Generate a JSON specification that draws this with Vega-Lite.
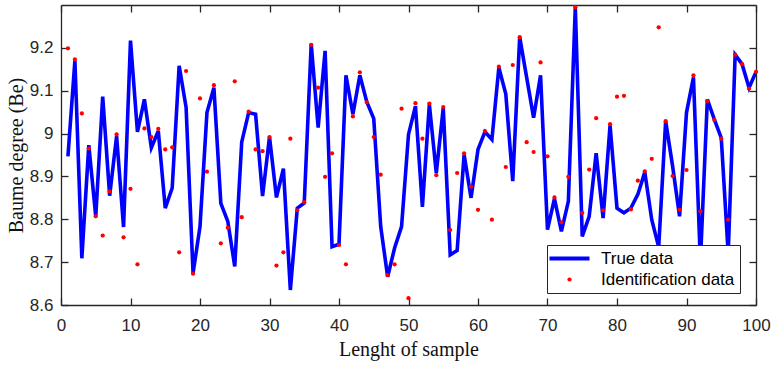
{
  "$schema": "https://vega.github.io/schema/vega-lite/v6.json",
  "width": 695,
  "height": 300,
  "autosize": {"type": "none"},
  "padding": {"left": 61, "top": 5, "right": 18, "bottom": 62},
  "background": "white",
  "config": {
    "view": {"stroke": null},
    "axis": {
      "grid": false,
      "domainColor": "#262626",
      "domainWidth": 1.3,
      "tickColor": "#262626",
      "tickWidth": 1.3,
      "tickSize": -7,
      "labelFont": "Liberation Sans",
      "labelFontSize": 17,
      "labelColor": "#262626",
      "titleFont": "Liberation Serif",
      "titleFontSize": 20,
      "titleFontWeight": "normal",
      "titleColor": "#111111"
    }
  },
  "data": {
    "values": [
      {"n": 1, "truth": 8.947, "ident": 9.199},
      {"n": 2, "truth": 9.170, "ident": 9.173},
      {"n": 3, "truth": 8.709, "ident": 9.047},
      {"n": 4, "truth": 8.973, "ident": 8.965},
      {"n": 5, "truth": 8.807, "ident": 8.807},
      {"n": 6, "truth": 9.086, "ident": 8.762},
      {"n": 7, "truth": 8.855, "ident": 8.865},
      {"n": 8, "truth": 8.994, "ident": 8.998},
      {"n": 9, "truth": 8.782, "ident": 8.758},
      {"n": 10, "truth": 9.217, "ident": 8.871},
      {"n": 11, "truth": 9.004, "ident": 8.695},
      {"n": 12, "truth": 9.080, "ident": 9.012},
      {"n": 13, "truth": 8.967, "ident": 8.992},
      {"n": 14, "truth": 9.006, "ident": 9.011},
      {"n": 15, "truth": 8.826, "ident": 8.963},
      {"n": 16, "truth": 8.873, "ident": 8.968},
      {"n": 17, "truth": 9.158, "ident": 8.723},
      {"n": 18, "truth": 9.061, "ident": 9.146},
      {"n": 19, "truth": 8.674, "ident": 8.673},
      {"n": 20, "truth": 8.783, "ident": 9.082},
      {"n": 21, "truth": 9.049, "ident": 8.911},
      {"n": 22, "truth": 9.107, "ident": 9.113},
      {"n": 23, "truth": 8.837, "ident": 8.744},
      {"n": 24, "truth": 8.795, "ident": 8.780},
      {"n": 25, "truth": 8.690, "ident": 9.122},
      {"n": 26, "truth": 8.980, "ident": 8.805},
      {"n": 27, "truth": 9.049, "ident": 9.051},
      {"n": 28, "truth": 9.045, "ident": 8.963},
      {"n": 29, "truth": 8.854, "ident": 8.959},
      {"n": 30, "truth": 8.992, "ident": 8.992},
      {"n": 31, "truth": 8.851, "ident": 8.692},
      {"n": 32, "truth": 8.918, "ident": 8.723},
      {"n": 33, "truth": 8.635, "ident": 8.988},
      {"n": 34, "truth": 8.826, "ident": 8.821},
      {"n": 35, "truth": 8.838, "ident": 8.840},
      {"n": 36, "truth": 9.209, "ident": 9.207},
      {"n": 37, "truth": 9.014, "ident": 9.107},
      {"n": 38, "truth": 9.193, "ident": 8.899},
      {"n": 39, "truth": 8.736, "ident": 8.954},
      {"n": 40, "truth": 8.742, "ident": 8.740},
      {"n": 41, "truth": 9.136, "ident": 8.695},
      {"n": 42, "truth": 9.045, "ident": 9.040},
      {"n": 43, "truth": 9.136, "ident": 9.143},
      {"n": 44, "truth": 9.074, "ident": 9.073},
      {"n": 45, "truth": 9.035, "ident": 8.992},
      {"n": 46, "truth": 8.783, "ident": 8.904},
      {"n": 47, "truth": 8.666, "ident": 8.670},
      {"n": 48, "truth": 8.733, "ident": 8.695},
      {"n": 49, "truth": 8.783, "ident": 9.058},
      {"n": 50, "truth": 8.998, "ident": 8.616},
      {"n": 51, "truth": 9.064, "ident": 9.071},
      {"n": 52, "truth": 8.829, "ident": 8.988},
      {"n": 53, "truth": 9.068, "ident": 9.070},
      {"n": 54, "truth": 8.908, "ident": 8.903},
      {"n": 55, "truth": 9.060, "ident": 9.062},
      {"n": 56, "truth": 8.717, "ident": 8.775},
      {"n": 57, "truth": 8.727, "ident": 8.908},
      {"n": 58, "truth": 8.951, "ident": 8.954},
      {"n": 59, "truth": 8.850, "ident": 8.876},
      {"n": 60, "truth": 8.963, "ident": 8.822},
      {"n": 61, "truth": 9.004, "ident": 9.006},
      {"n": 62, "truth": 8.986, "ident": 8.799},
      {"n": 63, "truth": 9.154, "ident": 9.156},
      {"n": 64, "truth": 9.092, "ident": 8.922},
      {"n": 65, "truth": 8.889, "ident": 9.160},
      {"n": 66, "truth": 9.225, "ident": 9.225},
      {"n": 67, "truth": 9.131, "ident": 8.980},
      {"n": 68, "truth": 9.037, "ident": 8.957},
      {"n": 69, "truth": 9.136, "ident": 9.166},
      {"n": 70, "truth": 8.776, "ident": 8.947},
      {"n": 71, "truth": 8.848, "ident": 8.851},
      {"n": 72, "truth": 8.772, "ident": 8.793},
      {"n": 73, "truth": 8.842, "ident": 8.899},
      {"n": 74, "truth": 9.295, "ident": 9.295},
      {"n": 75, "truth": 8.760, "ident": 8.815},
      {"n": 76, "truth": 8.807, "ident": 8.916},
      {"n": 77, "truth": 8.954, "ident": 9.036},
      {"n": 78, "truth": 8.803, "ident": 8.821},
      {"n": 79, "truth": 9.019, "ident": 9.022},
      {"n": 80, "truth": 8.826, "ident": 9.086},
      {"n": 81, "truth": 8.815, "ident": 9.088},
      {"n": 82, "truth": 8.826, "ident": 8.823},
      {"n": 83, "truth": 8.858, "ident": 8.890},
      {"n": 84, "truth": 8.910, "ident": 8.912},
      {"n": 85, "truth": 8.799, "ident": 8.941},
      {"n": 86, "truth": 8.735, "ident": 9.248},
      {"n": 87, "truth": 9.029, "ident": 9.029},
      {"n": 88, "truth": 8.924, "ident": 8.901},
      {"n": 89, "truth": 8.807, "ident": 8.822},
      {"n": 90, "truth": 9.049, "ident": 8.915},
      {"n": 91, "truth": 9.131, "ident": 9.136},
      {"n": 92, "truth": 8.700, "ident": 8.819},
      {"n": 93, "truth": 9.080, "ident": 9.076},
      {"n": 94, "truth": 9.033, "ident": 9.032},
      {"n": 95, "truth": 8.990, "ident": 8.988},
      {"n": 96, "truth": 8.720, "ident": 8.799},
      {"n": 97, "truth": 9.184, "ident": 9.184},
      {"n": 98, "truth": 9.162, "ident": 9.162},
      {"n": 99, "truth": 9.107, "ident": 9.105},
      {"n": 100, "truth": 9.144, "ident": 9.144}
    ]
  },
  "layer": [
    {
      "mark": {"type": "line", "strokeWidth": 3.6, "clip": true},
      "encoding": {
        "x": {
          "field": "n", "type": "quantitative",
          "scale": {"domain": [0, 100], "nice": false, "zero": false},
          "axis": {"orient": "bottom", "values": [0, 10, 20, 30, 40, 50, 60, 70, 80, 90, 100], "labelPadding": 19, "labelFlush": false, "title": "Lenght of sample", "titlePadding": 6}
        },
        "y": {
          "field": "truth", "type": "quantitative",
          "scale": {"domain": [8.6, 9.3], "nice": false, "zero": false},
          "axis": {"orient": "left", "values": [8.6, 8.7, 8.8, 8.9, 9.0, 9.1, 9.2], "format": "~g", "labelPadding": 15, "labelFlush": false, "title": "Baume degree  (Be)", "titlePadding": 3}
        },
        "color": {
          "datum": "True data", "type": "nominal",
          "scale": {"domain": ["True data", "Identification data"], "range": ["#0000FF", "#FF0000"]},
          "legend": {
            "orient": "none", "legendX": 486, "legendY": 240,
            "title": null, "direction": "vertical",
            "fillColor": "white", "strokeColor": "#262626",
            "padding": 5, "symbolSize": 400, "symbolOffset": 9, "labelOffset": 23, "rowPadding": 3,
            "labelFont": "Liberation Sans", "labelFontSize": 17, "labelColor": "#000000",
            "encode": {
              "symbols": {
                "update": {
                  "shape": {"signal": "datum.value === 'True data' ? 'M-2,0H2' : 'circle'"},
                  "size": {"signal": "datum.value === 'True data' ? 400 : 18"},
                  "strokeWidth": {"signal": "datum.value === 'True data' ? 4 : 0"},
                  "stroke": {"signal": "datum.value === 'True data' ? '#0000FF' : '#FF0000'"},
                  "fill": {"signal": "datum.value === 'True data' ? 'transparent' : '#FF0000'"},
                  "opacity": {"value": 1}
                }
              }
            }
          }
        }
      }
    },
    {
      "mark": {"type": "point", "filled": true, "size": 18, "opacity": 1},
      "encoding": {
        "x": {
          "field": "n", "type": "quantitative",
          "axis": {"orient": "top", "values": [0, 10, 20, 30, 40, 50, 60, 70, 80, 90, 100], "labels": false, "title": null}
        },
        "y": {
          "field": "ident", "type": "quantitative",
          "axis": {"orient": "right", "values": [8.6, 8.7, 8.8, 8.9, 9.0, 9.1, 9.2], "labels": false, "title": null}
        },
        "color": {"datum": "Identification data", "type": "nominal"}
      }
    }
  ],
  "resolve": {"axis": {"x": "independent", "y": "independent"}}
}
